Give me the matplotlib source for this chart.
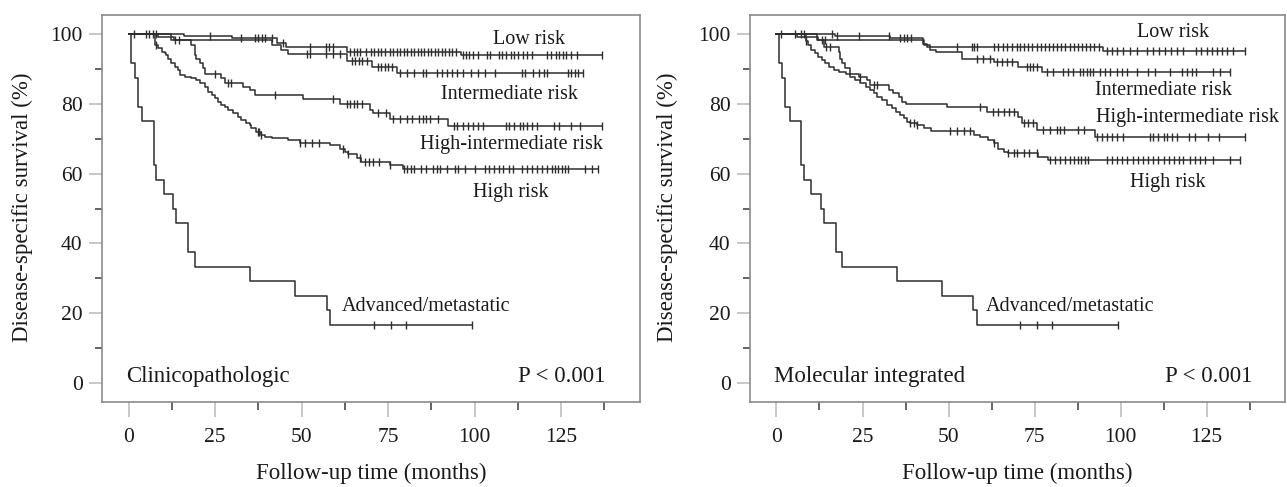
import numpy as np
import matplotlib
matplotlib.use("Agg")
import matplotlib.pyplot as plt
from matplotlib.ticker import MultipleLocator

plt.rcParams['font.family'] = ['Liberation Serif', 'DejaVu Serif']

# ---------------- data ----------------
xticks = [0, 25, 50, 75, 100, 125]
yticks = [0, 20, 40, 60, 80, 100]
xlabel = "Follow-up time (months)"
ylabel = "Disease-specific survival (%)"
panel_names = ["Clinicopathologic", "Molecular integrated"]
pvalue = "P < 0.001"

# Advanced/metastatic (same in both panels)
adv_t = [0, 0.8, 1.7, 2.6, 4.0, 7.2, 8.0, 10.1, 12.8, 13.8, 17.2, 19.1, 35.0, 48.0, 57.2, 58.2]
adv_s = [100, 91.7, 87.5, 79.2, 75.0, 62.5, 58.3, 54.2, 50.0, 45.8, 37.5, 33.3, 29.2, 25.0, 20.8, 16.7]
adv_c = [70.9, 75.7, 80.1, 99.2]

# ---- Left panel: Clinicopathologic ----
L_low_t = [0, 16, 30, 43, 45.5, 63, 96]
L_low_s = [100, 99.4, 99.0, 97.6, 96.2, 95.0, 94.0]
L_low_c = [1.5, 5, 6, 7, 8, 23.5, 32.5, 36.5, 37.5, 38.5, 39.5, 41.5, 44.5, 52.5, 57, 58, 59,
           64, 65, 66, 67, 68.5, 70, 71, 72, 73, 74, 75.5, 76.5, 77.5, 78.5, 79.5, 80.5, 81.5,
           82.5, 83.5, 84.5, 85.5, 86.5, 87.5, 88.5, 89.5, 90.5, 91.5, 92.5, 93.5, 94.5, 96.5,
           97.5, 98.5, 99.5, 101, 103.5, 104.5, 107, 108, 109, 110.5, 111.5, 112.5, 114, 115,
           116.5, 121, 122, 123.5, 124.5, 125.5, 126.5, 128, 129.5, 136.8]

L_int_t = [0, 8.5, 13, 41.3, 44, 46, 63, 70.2, 77.5]
L_int_s = [100, 99.2, 98.3, 96.8, 95.6, 94.2, 92.2, 90.6, 88.8]
L_int_c = [13.5, 14.5, 51.5, 52.5, 57, 59, 61, 64.5, 65.5, 66.5, 67.5, 69, 72, 73, 74, 75, 76,
           78.5, 80.5, 82.5, 85, 86, 89, 90.5, 92, 93.5, 95, 96.5, 99, 101, 103, 106, 113.6,
           114.6, 117, 118.5, 120, 121, 127, 128, 129, 130, 131.2]

L_hint_t = [0, 12.3, 18.1, 19.1, 19.6, 20.5, 21.5, 22.0, 26.8, 27.8, 33.1, 35.0, 36.5, 50.4,
            61.0, 69.7, 70.7, 75.5, 92.4]
L_hint_s = [100, 98.3, 96.8, 94.0, 93.0, 91.6, 90.2, 88.7, 87.3, 85.9, 84.9, 84.0, 82.5, 81.4,
            80.1, 78.2, 77.3, 75.8, 73.7]
L_hint_c = [25, 28.7, 29.7, 42.2, 59, 63, 64, 65, 66, 67.5, 72, 74.5, 76.5, 78.5, 80.5, 82, 84,
            85, 86, 87, 89.5, 94, 95, 96.5, 98, 99.5, 101, 102.5, 109, 110, 111.5, 113, 114,
            115, 116.5, 118, 123, 124.5, 128, 130.5, 136.8]

L_high_t = [0, 7.5, 8.5, 9.5, 10.4, 10.9, 11.4, 12.3, 13.3, 14.3, 14.8, 16.2, 18.1, 19.6, 20.5,
            22.0, 23.0, 24.0, 24.9, 25.8, 26.8, 27.8, 28.7, 30.2, 31.6, 32.6, 34.0, 35.0, 35.5,
            36.9, 38.4, 39.3, 41.3, 46.1, 49.5, 58.2, 61.1, 62.5, 63.5, 65.9, 67.3, 75.5, 79.4]
L_high_s = [100, 96.8, 95.9, 94.9, 94.5, 94.0, 93.0, 91.6, 90.6, 89.7, 88.3, 87.8, 87.3, 86.8,
            85.9, 84.9, 83.5, 82.5, 81.6, 80.6, 79.7, 79.2, 78.2, 77.3, 76.3, 75.4, 74.4, 73.9,
            73.0, 72.0, 71.1, 70.6, 70.1, 69.6, 68.9, 68.2, 67.2, 66.3, 65.5, 64.4, 63.4, 62.5,
            61.2]
L_high_c = [8, 37.3, 37.8, 38.4, 49.5, 51, 53, 55, 62, 63.5, 67, 68.2, 69.5, 70.5, 72.5, 75.5,
            79.5, 80.5, 81.5, 82.5, 84.5, 86, 88, 89, 90, 92, 94.3, 95.3, 97.2, 100.1, 103, 104.3,
            105.6, 107, 108.3, 109.8, 111.2, 113.6, 115.1, 116.5, 118, 119.4, 120.9, 122.3,
            123.2, 124.2, 125.2, 126.2, 127.1, 131.9, 133.8, 135.8]

# ---- Right panel: Molecular integrated ----
R_low_t = [0, 17, 33, 42.7, 43.7, 95.0]
R_low_s = [100, 99.5, 99.0, 97.3, 96.4, 95.1]
R_low_c = [1.2, 5.5, 7, 8, 16.2, 17.6, 23.9, 32.6, 36, 37, 38, 39, 52.4, 56.8, 57.5, 58.2, 63.1,
           64.5, 65.8, 67, 68.4, 69.8, 70.8, 72, 73.2, 74.4, 75.6, 76.8, 78, 79.2, 80.4, 81.6,
           82.8, 84, 85.2, 86.4, 87.6, 88.8, 90, 91.2, 92.4, 93.6, 96, 97.5, 99, 100.8, 102.7,
           104.7, 107.6, 109.5, 111.2, 113, 114.8, 116.5, 118.2, 122, 123.5, 125, 126.5, 128,
           129.5, 131, 132.7, 136.1]

R_int_t = [0, 6, 12, 43, 44.5, 46.5, 53.9, 63.1, 70.3, 77.1]
R_int_s = [100, 99.2, 98.3, 96.8, 95.5, 94.9, 93.0, 92.1, 90.6, 89.2]
R_int_c = [13.2, 14.2, 58.2, 60, 62.1, 64, 65.5, 67, 68.4, 72.7, 73.7, 74.7, 75.6, 78.5, 80.5,
           83.4, 84.8, 86.3, 88.2, 89.2, 90.2, 91.2, 92.1, 94, 95.5, 97, 99, 100.5, 102, 104.7,
           108, 110, 114.4, 118, 119.3, 120.7, 122, 127, 129, 131.7]

R_hint_t = [0, 11.8, 13.7, 18.1, 18.6, 19.1, 20.0, 21.5, 23.9, 26.3, 27.3, 32.6, 34.0, 35.5,
            36.5, 37.5, 49.5, 61.1, 70.3, 71.3, 75.6, 92.6]
R_hint_s = [100, 98.3, 96.4, 95.0, 93.0, 91.6, 90.2, 88.7, 87.8, 86.8, 85.4, 84.0, 83.1, 82.1,
            80.6, 80.1, 79.2, 77.7, 76.3, 74.4, 72.5, 70.6]
R_hint_c = [14.5, 15.5, 24.4, 28.2, 29.2, 59.2, 63, 64.5, 66, 67.5, 68.9, 71.8, 73, 74.6, 77.5,
            79.5, 81.5, 82.5, 83.5, 87.5, 89.5, 93.1, 94.5, 96, 97.5, 99, 100.8, 108.5, 109.5,
            111, 112.5, 113.5, 115, 116.3, 120, 121.5, 125.5, 128.5, 136.1]

R_high_t = [0, 8.5, 9.1, 10.1, 11.1, 12.1, 13.2, 14.2, 15.2, 16.7, 18.1, 20.1, 21.5, 22.9, 24.4,
            25.9, 27.3, 28.3, 29.3, 30.7, 32.2, 33.6, 34.6, 36.0, 37.0, 38.0, 38.9, 40.9, 42.8,
            45.0, 57.3, 59.2, 61.6, 63.1, 64.5, 66.0, 67.4, 76.1, 79.0]
R_high_s = [100, 98.0, 96.8, 95.4, 94.5, 93.5, 92.5, 91.6, 90.6, 89.7, 89.2, 88.5, 87.8, 86.8,
            85.9, 84.9, 84.0, 83.1, 82.1, 81.2, 79.7, 78.8, 77.8, 76.8, 75.9, 74.9, 74.4, 73.9,
            73.0, 72.2, 71.1, 70.6, 69.6, 68.7, 67.2, 66.3, 65.8, 64.8, 63.9]
R_high_c = [8.5, 38.9, 39.9, 40.9, 50.5, 52.5, 54.5, 56.3, 63.1, 67.4, 68.9, 70, 71.8, 73.5,
            75.6, 79.5, 81, 82.5, 83.8, 85.3, 86.5, 87.5, 88.5, 89.6, 90.6, 96, 97.5, 99, 100.5,
            102, 103.5, 105, 106.5, 108, 109.5, 111, 112.5, 114, 115.5, 117, 118.2, 120.1, 121.5,
            123, 124.5, 126.9, 131.7, 134.6]

left_labels = [("Low risk", 115.7, 97.3, 'center'),
               ("Intermediate risk", 110.1, 81.3, 'center'),
               ("High-intermediate risk", 110.7, 67.2, 'center'),
               ("High risk", 110.5, 53.4, 'center'),
               ("Advanced/metastatic", 61.5, 20.6, 'left')]
right_labels = [("Low risk", 115.3, 99.2, 'center'),
                ("Intermediate risk", 112.4, 82.5, 'center'),
                ("High-intermediate risk", 92.9, 74.9, 'left'),
                ("High risk", 113.6, 56.2, 'center'),
                ("Advanced/metastatic", 60.9, 20.6, 'left')]

# ---------------- drawing ----------------
W, H = 1287, 487
fig = plt.figure(figsize=(W / 100, H / 100), dpi=100)

line_col = '#2e2e2e'
spine_col = '#8a8a8a'


def km(ax, t, s, c):
    t = np.asarray(t, float)
    s = np.asarray(s, float)
    c = np.asarray(c, float)
    tend = max(t[-1], c.max())
    tt = np.append(t, tend)
    ss = np.append(s, s[-1])
    ax.step(tt, ss, where='post', color=line_col, lw=1.1, zorder=3)
    idx = np.searchsorted(t, c, side='right') - 1
    ax.plot(c, s[idx], ls='none', marker='|', ms=5.5, mew=1.0, color=line_col, zorder=4)


def setup(ax):
    ax.set_xlim(-7.7, 147.8)
    ax.set_ylim(-5.5, 105.5)
    for sp in ax.spines.values():
        sp.set_color(spine_col)
        sp.set_linewidth(1.2)
    ax.set_xticks(xticks)
    ax.set_yticks(yticks)
    ax.xaxis.set_minor_locator(MultipleLocator(12.5))
    ax.yaxis.set_minor_locator(MultipleLocator(10))
    ax.tick_params(axis='x', which='major', length=10.5, width=1.2, color='#bdbdbd',
                   labelsize=15.5, pad=8, labelcolor='#1a1a1a')
    ax.tick_params(axis='x', which='minor', length=5.5, width=1.2, color='#4a4a4a')
    ax.tick_params(axis='y', which='major', length=9.5, width=1.2, color='#bdbdbd',
                   labelsize=15.5, pad=4.5, labelcolor='#1a1a1a')
    ax.tick_params(axis='y', which='minor', length=5, width=1.2, color='#4a4a4a')


axL = fig.add_axes([102 / W, 1 - 402 / H, 538 / W, 387 / H])
axR = fig.add_axes([750 / W, 1 - 402 / H, 535 / W, 387 / H])

panels = [
    (axL, [(L_low_t, L_low_s, L_low_c), (L_int_t, L_int_s, L_int_c),
           (L_hint_t, L_hint_s, L_hint_c), (L_high_t, L_high_s, L_high_c)], left_labels,
     panel_names[0], 137.7, 22 / W, 371 / W),
    (axR, [(R_low_t, R_low_s, R_low_c), (R_int_t, R_int_s, R_int_c),
           (R_hint_t, R_hint_s, R_hint_c), (R_high_t, R_high_s, R_high_c)], right_labels,
     panel_names[1], 138.4, 667.5 / W, 1017.5 / W),
]

for ax, curves, labels, pname, px, ylx, xlx in panels:
    setup(ax)
    for t, s, c in curves:
        km(ax, t, s, c)
    km(ax, adv_t, adv_s, adv_c)
    for txt, x, y, ha in labels:
        ax.text(x, y, txt, ha=ha, va='baseline', fontsize=14.5, color='#1a1a1a')
    ax.text(-0.6, 0.1, pname, ha='left', va='baseline', fontsize=16.5, color='#1a1a1a')
    ax.text(px, 0.1, pvalue, ha='right', va='baseline', fontsize=16.5, color='#1a1a1a')
    fig.text(ylx, 1 - 207 / H, ylabel, rotation=90, ha='center', va='center',
             fontsize=16.5, color='#1a1a1a')
    fig.text(xlx, 1 - 473 / H, xlabel, ha='center', va='center', fontsize=16.5,
             color='#1a1a1a')

fig.savefig('out.png', dpi=100, facecolor='white')
